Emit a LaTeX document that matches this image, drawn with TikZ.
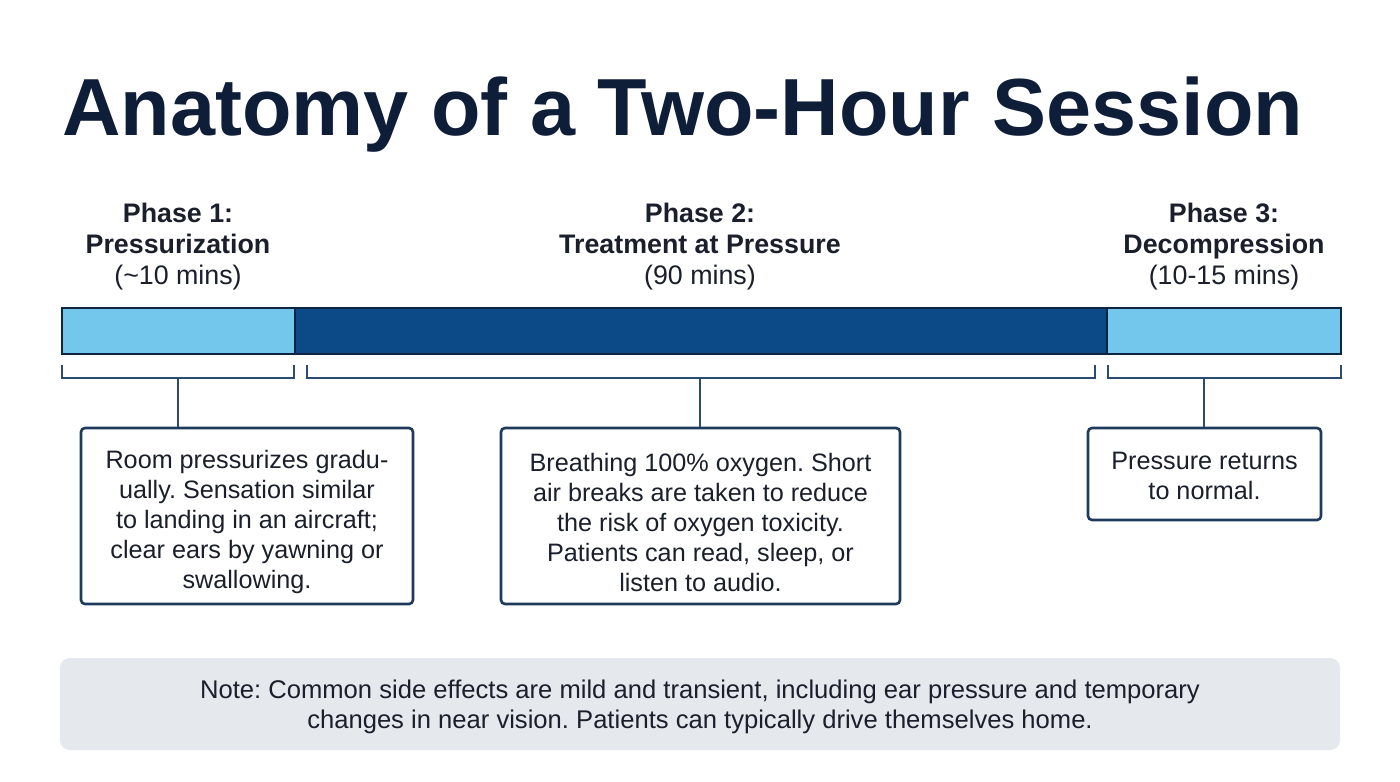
\documentclass[tikz,border=0pt]{standalone}
\usepackage{fontspec}
\setmainfont{Liberation Sans}
\definecolor{titlec}{HTML}{0E1D38}
\definecolor{lightbar}{HTML}{74C7EC}
\definecolor{darkbar}{HTML}{0B4A86}
\definecolor{barline}{HTML}{0F2440}
\definecolor{brk}{HTML}{2A4C6E}
\definecolor{boxline}{HTML}{1E3A5C}
\definecolor{notefill}{HTML}{E5E8ED}
\definecolor{txt}{HTML}{1A1F2B}
\begin{document}
\frenchspacing
\begin{tikzpicture}[x=0.5pt,y=-0.5pt,
  phase/.style={align=center, text=txt, font=\fontsize{13.4}{15.5}\selectfont, inner sep=0pt},
  seg/.style={draw=barline, line width=1.3pt, inner sep=0pt, minimum height=23pt},
  brack/.style={draw=brk, line width=1.2pt},
  infobox/.style={draw=boxline, line width=1.3pt, rounded corners=2pt},
  boxtext/.style={align=center, text=txt, font=\fontsize{12.6}{15}\selectfont, inner sep=0pt},
  notebox/.style={fill=notefill, rounded corners=5pt, align=center, text=txt,
    font=\fontsize{12.8}{15}\selectfont, inner sep=0pt}]
\useasboundingbox (0,0) rectangle (1400,781);
\fill[white] (0,0) rectangle (1400,781);
% title
\node[anchor=base west, text=titlec, inner sep=0pt, font=\fontsize{40.5}{44}\bfseries\selectfont] (title) at (62,135) {Anatomy of a Two-Hour Session};
% phase labels
\node[phase] (p1) at (178,247) {\textbf{Phase 1:}\\\textbf{Pressurization}\\(\textasciitilde10 mins)};
\node[phase] (p2) at (700,247) {\textbf{Phase 2:}\\\textbf{Treatment at Pressure}\\(90 mins)};
\node[phase] (p3) at (1224,247) {\textbf{Phase 3:}\\\textbf{Decompression}\\(10-15 mins)};
% bar
\node[seg, fill=lightbar, minimum width=116.5pt] (s1) at (178.5,331) {};
\node[seg, fill=darkbar, minimum width=406pt] (s2) at (701,331) {};
\node[seg, fill=lightbar, minimum width=117pt] (s3) at (1224,331) {};
% brackets
\draw[brack] (62,365) |- (294,378) -- (294,365);
\draw[brack] (307,365) |- (1095,378) -- (1095,365);
\draw[brack] (1108,365) |- (1341,378) -- (1341,365);
\coordinate (b1) at (178,378);
\coordinate (b2) at (700,378);
\coordinate (b3) at (1204,378);
% boxes
\node[infobox, minimum width=166pt, minimum height=88pt] (box1) at (247,516) {};
\node[boxtext] (t1) at (247,522)
  {Room pressurizes gradu-\\ually. Sensation similar\\to landing in an aircraft;\\clear ears by yawning or\\swallowing.};
\node[infobox, minimum width=199.5pt, minimum height=88pt] (box2) at (700.5,516) {};
\node[boxtext] (t2) at (700.5,522)
  {Breathing 100\% oxygen. Short\\air breaks are taken to reduce\\the risk of oxygen toxicity.\\Patients can read, sleep, or\\listen to audio.};
\node[infobox, minimum width=116.5pt, minimum height=46pt] (box3) at (1204.5,474) {};
\node[boxtext] (t3) at (1204.5,476) {Pressure returns\\to normal.};
% stems
\draw[brack] (b1) -- (b1 |- box1.north);
\draw[brack] (b2) -- (b2 |- box2.north);
\draw[brack] (b3) -- (b3 |- box3.north);
% note
\node[notebox, minimum width=640pt, minimum height=46pt] (note) at (700,704) {};
\node[boxtext, font=\fontsize{12.8}{15}\selectfont] (nt) at (700,707)
  {Note: Common side effects are mild and transient, including ear pressure and temporary\\changes in near vision. Patients can typically drive themselves home.};
\end{tikzpicture}
\end{document}
